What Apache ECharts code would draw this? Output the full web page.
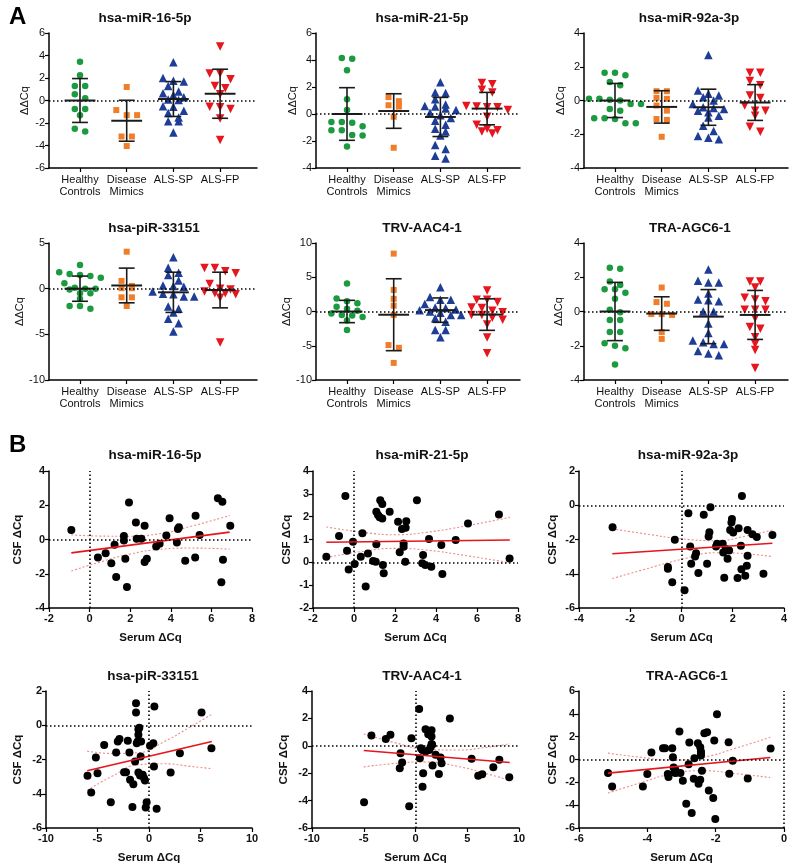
<!DOCTYPE html>
<html><head><meta charset="utf-8">
<script src="https://cdn.jsdelivr.net/npm/echarts@6/dist/echarts.min.js"></script>
<style>html,body{margin:0;padding:0;background:#fff}#c{width:790px;height:866px}</style>
</head><body><div id="c"></div>
<script>
// ---------- Categories / ticks ----------
const catNames = ['Healthy\nControls', 'Disease\nMimics', 'ALS-SP', 'ALS-FP'];

// ---------- Panel A : ΔΔCq per group ----------
const A1_HC = [3.45, 2.25, 1.3, 1.3, 0.55, 0.2, -0.75, -0.75, -1.3, -2.5, -2.75];
const A1_DM = [1.2, -0.85, -1.3, -1.3, -3.2, -3.2, -4.05];
const A1_SP = [3.4, 2.0, 1.75, 1.7, 1.3, 0.8, 0.65, 0.5, 0.3, 0.1, 0.05, -0.5, -0.55, -0.9, -1.1, -1.5, -1.85, -1.85, -2.85];
const A1_FP = [4.8, 2.4, 2.4, 1.9, 1.3, 1.1, 0.55, -0.55, -0.6, -0.75, -1.6, -3.5];
const A1_mean = [0, -1.8, 0.13, 0.6];
const A1_sd = [1.95, 1.82, 1.55, 2.18];

const A2_HC = [4.1, 4.15, 3.25, 1.1, 0.3, -0.6, -0.6, -0.65, -0.9, -1.2, -1.2, -1.55, -1.6, -2.4];
const A2_DM = [1.25, 0.95, 0.65, 0.55, -0.2, -2.5];
const A2_SP = [2.35, 1.6, 1.55, 1.1, 0.7, 0.6, 0.55, 0.4, 0.3, 0.1, -0.1, -0.3, -0.5, -0.8, -1.1, -1.3, -1.6, -2.3, -2.6, -3.1, -3.3];
const A2_FP = [2.3, 2.2, 1.8, 1.6, 0.6, 0.55, 0.5, 0.5, 0.3, -0.2, -0.8, -1.1, -1.2, -1.45, -1.3];
const A2_mean = [0, 0.22, -0.22, 0.4];
const A2_sd = [1.95, 1.28, 1.45, 1.2];

const A3_HC = [1.65, 1.65, 1.5, 1.1, 0.9, 0.1, 0.1, 0.05, 0.0, -0.2, -0.2, -0.5, -0.6, -1.05, -1.05, -1.1, -1.35, -1.35];
const A3_DM = [0.55, 0.55, 0.15, 0.1, -0.3, -0.6, -1.1, -1.15, -2.15];
const A3_SP = [2.7, 0.6, 0.4, 0.3, 0.2, 0.0, -0.2, -0.4, -0.45, -0.5, -0.6, -0.7, -0.9, -1.0, -1.5, -1.8, -2.1, -2.3, -2.2];
const A3_FP = [1.65, 1.65, 1.15, 0.9, 0.3, 0.15, -0.3, -0.6, -0.6, -0.9, -1.55, -1.85];
const A3_mean = [0, -0.38, -0.4, -0.12];
const A3_sd = [1.01, 0.96, 1.07, 1.06];

const A4_HC = [2.6, 1.8, 1.6, 1.5, 1.4, 1.2, 0.6, 0.1, 0.0, 0.0, -0.1, -0.5, -0.5, -1.1, -1.9, -1.9, -2.2];
const A4_DM = [4.05, 0.85, 0.3, 0.05, 0.05, -0.95, -0.95, -1.9];
const A4_SP = [3.45, 2.3, 1.75, 1.5, 0.9, 0.35, 0.3, 0.2, -0.3, -0.55, -0.6, -0.85, -0.85, -1.95, -2.2, -2.6, -3.3, -3.8, -4.7];
const A4_FP = [2.25, 2.25, 1.9, 1.7, 0.5, 0.0, -0.1, -0.3, -0.5, -0.5, -0.6, -1.0, -5.9];
const A4_mean = [0, 0.35, -0.4, -0.15];
const A4_sd = [1.38, 1.9, 2.2, 1.95];

const A5_HC = [4.1, 1.9, 1.5, 1.2, 0.7, 0.4, 0.1, -0.3, -0.5, -0.6, -0.8, -1.3, -2.7];
const A5_DM = [8.45, 3.15, 1.85, 0.85, -0.5, -4.9, -5.3, -7.5];
const A5_SP = [3.55, 2.1, 1.7, 1.7, 1.1, 0.6, 0.5, 0.3, 0.2, 0.0, -0.2, -0.5, -0.5, -1.0, -1.5, -2.7, -2.7, -3.75];
const A5_FP = [3.05, 1.7, 1.7, 1.4, 0.6, 0.5, 0.1, -0.1, -0.5, -0.5, -0.9, -1.2, -1.9, -3.8, -6.1];
const A5_mean = [0, -0.47, 0.2, -0.45];
const A5_sd = [1.63, 5.25, 1.78, 2.3];

const A6_HC = [2.5, 2.55, 1.75, 1.55, 1.3, 1.3, 1.1, 0.75, 0.1, -0.05, -0.5, -0.5, -1.2, -1.2, -1.85, -2.0, -2.15, -3.1];
const A6_DM = [1.4, 0.55, 0.45, -0.15, -0.15, -0.2, -1.2, -1.6];
const A6_SP = [2.45, 1.8, 1.7, 1.7, 1.05, 0.7, 0.65, 0.6, 0.0, 0.0, -0.7, -1.25, -1.7, -1.8, -1.9, -1.9, -2.3, -2.45, -2.55];
const A6_FP = [1.75, 1.75, 1.4, 0.8, 0.7, 0.6, 0.1, 0.1, 0.1, -0.4, -0.9, -1.0, -1.5, -1.9, -2.25, -3.3];
const A6_mean = [0, -0.12, -0.3, -0.2];
const A6_sd = [1.7, 0.98, 1.58, 1.43];

// ---------- Panel B : serum vs CSF ΔCq ----------
const B1_serum = [-0.9,0.41,0.79,1.07,1.23,1.31,1.69,1.69,1.76,1.84,1.94,2.28,2.32,2.55,2.71,2.71,2.82,3.28,3.45,3.78,3.94,4.3,4.35,4.4,4.71,5.2,5.22,5.42,6.32,6.54,6.49,6.57,6.93];
const B1_csf = [0.56,-1.05,-0.8,-1.38,-0.31,-2.19,0.21,-0.06,-1.13,-2.78,2.16,0.99,0.04,0.04,0.8,-1.32,-1.13,-0.41,-0.25,0.23,1.24,-0.17,0.62,0.72,-1.24,-1.05,1.38,0.27,2.41,2.21,-2.5,-1.18,0.8];
const B1_fit = [[-0.9,-0.78],[6.9,0.43]];
const B1_bandX = [-0.9,0.5,2,3.5,5,6.9];
const B1_upper = [0.27,0.2,0.19,0.35,0.77,1.4];
const B1_lower = [-1.84,-1.32,-0.85,-0.57,-0.5,-0.56];

const B2_serum = [-1.35,-0.73,-0.42,-0.34,-0.26,-0.05,0.03,0.33,0.41,0.57,0.68,0.93,1.06,1.09,1.09,1.17,1.25,1.28,1.38,1.38,1.41,1.45,1.74,2.15,2.23,2.34,2.42,2.42,2.52,2.55,2.5,3.07,3.37,3.33,3.48,3.66,3.77,4.26,4.31,4.96,5.56,7.07,7.59];
const B2_csf = [0.25,1.15,2.91,0.51,-0.31,0.9,-0.07,0.25,1.27,-1.06,0.39,0.06,0.03,2.21,0.79,2.07,1.97,2.72,2.55,1.92,-0.12,-0.48,2.21,1.78,0.44,1.46,0.83,0.68,1.51,1.8,0.03,2.72,0.32,-0.04,-0.12,1.02,-0.19,0.76,-0.51,0.98,1.7,2.1,0.17];
const B2_fit = [[-1.35,0.88],[7.6,0.98]];
const B2_bandX = [-1.35,0.5,2,3.5,5.5,7.6];
const B2_upper = [1.55,1.31,1.21,1.31,1.6,1.97];
const B2_lower = [0.21,0.49,0.61,0.54,0.29,-0.02];

const B3_serum = [-2.69,-0.53,-0.53,-0.36,-0.26,0.12,0.27,0.34,0.38,0.53,0.57,0.66,0.87,1.0,1.06,1.09,1.13,1.35,1.39,1.61,1.63,1.67,1.73,1.8,1.86,1.9,1.97,1.95,2.02,2.19,2.23,2.32,2.34,2.36,2.49,2.55,2.58,2.58,2.77,2.94,3.2,3.55];
const B3_csf = [-1.28,-3.61,-3.71,-4.5,-2.02,-4.97,-0.47,-2.41,-3.42,-2.99,-2.8,-3.96,-0.56,-3.42,-1.83,-1.57,-0.12,-2.41,-2.25,-2.25,-2.76,-4.23,-2.56,-3.13,-2.64,-1.44,-0.8,-1.01,-1.59,-4.25,-1.34,-2.37,-3.73,0.54,-4.12,-3.53,-2.95,-1.44,-1.69,-1.86,-4.0,-1.73];
const B3_fit = [[-2.7,-2.83],[3.55,-2.22]];
const B3_bandX = [-2.7,-1.5,0,1.4,2.5,3.55];
const B3_upper = [-1.38,-1.65,-1.96,-2.07,-1.8,-1.45];
const B3_lower = [-4.28,-3.77,-3.16,-2.77,-2.83,-3.0];

const B4_serum = [-5.97,-5.61,-5.16,-5.0,-4.35,-3.71,-3.19,-3.03,-2.87,-2.42,-2.23,-2.06,-1.9,-1.84,-1.61,-1.52,-1.35,-1.26,-1.26,-1.19,-1.1,-1.03,-1.03,-1.03,-0.94,-0.87,-0.81,-0.77,-0.61,-0.48,-0.39,-0.32,-0.23,0.1,0.42,0.48,0.52,0.74,2.1,3.0,5.1,6.06];
const B4_csf = [-2.95,-3.92,-1.88,-2.8,-1.15,-4.49,-1.59,-0.95,-0.8,-2.74,-2.74,-0.91,-1.59,-3.18,-4.78,-3.44,-2.12,1.28,0.74,-1.05,-0.95,-0.56,-0.23,-2.76,-0.14,-2.93,-1.83,-0.95,-2.89,-3.09,-3.22,-4.8,-4.49,-1.2,-1.05,-2.41,1.09,-4.87,-2.76,-1.63,0.74,-1.34];
const B4_fit = [[-6,-2.66],[6.1,-0.95]];
const B4_bandX = [-6,-3.5,-1,1.5,4,6.1];
const B4_upper = [-1.51,-1.65,-1.6,-0.95,-0.1,0.64];
const B4_lower = [-3.81,-2.95,-2.3,-2.25,-2.4,-2.54];

const B5_serum = [-4.97,-4.26,-2.87,-2.42,-1.45,-1.52,-1.29,-0.39,-0.61,0.35,0.42,0.52,0.65,0.74,0.68,0.97,0.97,1.23,1.32,1.45,1.55,1.55,1.61,1.55,1.65,1.94,2.26,2.42,2.52,3.32,5.42,6.06,6.45,7.52,8.1,9.06];
const B5_csf = [-4.12,0.75,0.5,0.8,-0.54,-1.63,-1.22,0.55,-4.42,2.69,-0.9,-0.17,-0.3,-2.01,-2.98,1.2,-0.42,0.84,-0.3,-0.1,1.14,0.67,0.07,0.14,-1.44,-0.66,-2.06,-0.86,-1.27,1.99,-0.95,-2.18,-2.08,-1.57,-1.02,-2.3];
const B5_fit = [[-5,-0.34],[9.1,-1.22]];
const B5_bandX = [-5,-2,1,4,7,9.1];
const B5_upper = [0.86,0.23,-0.25,-0.31,-0.1,0.15];
const B5_lower = [-1.54,-1.29,-1.17,-1.49,-2.06,-2.52];

const B6_serum = [-5.15,-5.03,-4.13,-4.0,-3.88,-3.54,-3.48,-3.4,-3.38,-3.27,-3.25,-3.23,-3.2,-3.18,-3.17,-3.03,-3.06,-2.96,-2.86,-2.77,-2.79,-2.7,-2.62,-2.64,-2.52,-2.5,-2.45,-2.45,-2.43,-2.43,-2.43,-2.4,-2.33,-2.25,-2.2,-2.07,-2.04,-2.01,-1.96,-1.62,-1.6,-1.5,-1.06,-0.39];
const B6_csf = [-1.19,-2.36,-2.36,-1.28,0.61,0.99,0.99,-1.28,-1.54,0.99,0.2,-0.7,-1.14,-0.9,-1.19,-1.19,2.45,-1.86,-3.87,1.49,-0.41,-4.69,0.12,-1.69,1.43,-2.13,-1.78,1.08,0.7,0.5,0.35,-0.99,2.3,2.39,-2.71,-3.38,1.66,-5.21,3.96,1.51,-1.25,-0.12,-1.66,0.96];
const B6_fit = [[-5.15,-1.19],[-0.4,0.17]];
const B6_bandX = [-5.15,-4.2,-3.3,-2.4,-1.4,-0.4];
const B6_upper = [0.56,0.2,-0.05,0.18,1.0,1.95];
const B6_lower = [-2.94,-2.04,-1.27,-0.98,-1.24,-1.58];

// ---------- Styles & layout ----------
const FONT = '"Liberation Sans", Arial, Helvetica, sans-serif';
const colors = ['#1b9a40', '#f07d2a', '#1d3d97', '#e5161d'];
const symbols = ['circle', 'rect', 'triangle', 'triangle'];
const symRot = [0, 0, 0, 180];
const symSize = [6.5, 6, 8.5, 8.5];

const panelsA = [
  {title:'hsa-miR-16-5p', groups:[A1_HC,A1_DM,A1_SP,A1_FP], mean:A1_mean, sd:A1_sd, y:[-6,6,2],
   g:{left:49, top:33, width:208, height:135}, tx:140, ty:6, gap:19},
  {title:'hsa-miR-21-5p', groups:[A2_HC,A2_DM,A2_SP,A2_FP], mean:A2_mean, sd:A2_sd, y:[-4,6,2],
   g:{left:316, top:33, width:204, height:135}, tx:417, ty:6, gap:18},
  {title:'hsa-miR-92a-3p', groups:[A3_HC,A3_DM,A3_SP,A3_FP], mean:A3_mean, sd:A3_sd, y:[-4,4,2],
   g:{left:584, top:33, width:204, height:135}, tx:684, ty:6, gap:17},
  {title:'hsa-piR-33151', groups:[A4_HC,A4_DM,A4_SP,A4_FP], mean:A4_mean, sd:A4_sd, y:[-10,5,5],
   g:{left:49, top:243, width:208, height:137}, tx:149, ty:216, gap:24},
  {title:'TRV-AAC4-1', groups:[A5_HC,A5_DM,A5_SP,A5_FP], mean:A5_mean, sd:A5_sd, y:[-10,10,5],
   g:{left:316, top:243, width:204, height:137}, tx:417, ty:216, gap:23},
  {title:'TRA-AGC6-1', groups:[A6_HC,A6_DM,A6_SP,A6_FP], mean:A6_mean, sd:A6_sd, y:[-4,4,2],
   g:{left:584, top:243, width:204, height:137}, tx:685, ty:216, gap:20}
];

const panelsB = [
  {title:'hsa-miR-16-5p', serum:B1_serum, csf:B1_csf, fit:B1_fit, bx:B1_bandX, up:B1_upper, lo:B1_lower,
   x:[-2,8,2], y:[-4,4,2], g:{left:49, top:471, width:203, height:137}, tx:150, ty:443, gap:25},
  {title:'hsa-miR-21-5p', serum:B2_serum, csf:B2_csf, fit:B2_fit, bx:B2_bandX, up:B2_upper, lo:B2_lower,
   x:[-2,8,2], y:[-2,4,1], g:{left:313, top:471, width:205, height:137}, tx:417, ty:443, gap:20},
  {title:'hsa-miR-92a-3p', serum:B3_serum, csf:B3_csf, fit:B3_fit, bx:B3_bandX, up:B3_upper, lo:B3_lower,
   x:[-4,4,2], y:[-6,2,2], g:{left:579, top:471, width:206, height:137}, tx:683, ty:443, gap:20},
  {title:'hsa-piR-33151', serum:B4_serum, csf:B4_csf, fit:B4_fit, bx:B4_bandX, up:B4_upper, lo:B4_lower,
   x:[-10,10,5], y:[-6,2,2], g:{left:46, top:691, width:206, height:137}, tx:148, ty:664, gap:22},
  {title:'TRV-AAC4-1', serum:B5_serum, csf:B5_csf, fit:B5_fit, bx:B5_bandX, up:B5_upper, lo:B5_lower,
   x:[-10,10,5], y:[-6,4,2], g:{left:312, top:691, width:207, height:137}, tx:417, ty:664, gap:22},
  {title:'TRA-AGC6-1', serum:B6_serum, csf:B6_csf, fit:B6_fit, bx:B6_bandX, up:B6_upper, lo:B6_lower,
   x:[-6,0,2], y:[-6,6,2], g:{left:579, top:691, width:206, height:137}, tx:682, ty:664, gap:20}
];

// Prism-like row swarm: bins values into rows by marker height, spreads rows symmetrically
function swarm(values, pxPerY, pxPerX, diam) {
  const sorted = values.slice().sort((a, b) => b - a);
  const binH = diam * 0.9 / pxPerY;
  const out = [];
  let bin = [], start = null;
  const flush = () => {
    const k = bin.length;
    bin.forEach((v, j) => out.push([(j - (k - 1) / 2) * diam * 1.6 / pxPerX, v]));
    bin = [];
  };
  for (const v of sorted) {
    if (start === null || start - v > binH) { flush(); start = v; }
    bin.push(v);
  }
  flush();
  return out;
}

const axisLineStyle = {color:'#000', width:1.5};
const option = {animation:false, backgroundColor:'#fff', title:[], grid:[], xAxis:[], yAxis:[], series:[]};

option.title.push({text:'A', left:4, top:0, textStyle:{fontSize:24, fontWeight:'bold', color:'#000', fontFamily:FONT}});
option.title.push({text:'B', left:4, top:428, textStyle:{fontSize:24, fontWeight:'bold', color:'#000', fontFamily:FONT}});

let idx = 0;
const UNIT = 46.7; // px per category step
panelsA.forEach(p => {
  const g = p.g;
  option.title.push({text:p.title, left:p.tx, top:p.ty, textAlign:'center',
    textStyle:{fontSize:13.5, fontWeight:'bold', color:'#111', fontFamily:FONT}});
  option.grid.push({left:g.left, top:g.top, width:g.width, height:g.height});
  const xMin = 1 - 31 / UNIT, xMax = xMin + g.width / UNIT;
  option.xAxis.push({gridIndex:idx, type:'value', min:xMin, max:xMax,
    axisLine:{show:true, onZero:false, lineStyle:axisLineStyle},
    axisTick:{show:true, customValues:[1,2,3,4], length:4, lineStyle:{color:'#000', width:1.2}},
    axisLabel:{show:true, customValues:[1,2,3,4], formatter:v => catNames[Math.round(v) - 1],
      color:'#111', fontSize:11, lineHeight:12, margin:6, fontFamily:FONT},
    splitLine:{show:false}});
  option.yAxis.push({gridIndex:idx, type:'value', min:p.y[0], max:p.y[1], interval:p.y[2],
    axisLine:{show:true, onZero:false, lineStyle:axisLineStyle},
    axisTick:{show:true, length:4, lineStyle:{color:'#000', width:1.2}},
    axisLabel:{color:'#111', fontSize:11, margin:4, fontFamily:FONT},
    splitLine:{show:false},
    name:'ΔΔCq', nameLocation:'middle', nameGap:p.gap,
    nameTextStyle:{fontSize:11, color:'#111', fontFamily:FONT}});
  const pxY = g.height / (p.y[1] - p.y[0]);
  p.groups.forEach((vals, gi) => {
    const pts = swarm(vals, pxY, UNIT, 6.5).map(([dx, v]) => [gi + 1 + dx, v]);
    const s = {type:'scatter', xAxisIndex:idx, yAxisIndex:idx, data:pts, silent:true,
      symbol:symbols[gi], symbolRotate:symRot[gi], symbolSize:symSize[gi],
      itemStyle:{color:colors[gi], opacity:1}, z:3};
    if (gi === 0) s.markLine = {silent:true, symbol:'none', label:{show:false}, animation:false,
      lineStyle:{type:[1.5, 2.5], color:'#000', width:1.6}, data:[{yAxis:0}]};
    option.series.push(s);
  });
  option.series.push({type:'custom', xAxisIndex:idx, yAxisIndex:idx, silent:true, z:5, clip:false,
    data:p.mean.map((m, i) => [i + 1, m, p.sd[i]]),
    renderItem:(params, api) => {
      const x = api.value(0), m = api.value(1), s = api.value(2);
      const c = (a, b) => api.coord([a, b]);
      const L = (p1, p2, w) => ({type:'line', shape:{x1:p1[0], y1:p1[1], x2:p2[0], y2:p2[1]},
        style:{stroke:'#1a1a1a', lineWidth:w}});
      return {type:'group', children:[
        L(c(x - 0.33, m), c(x + 0.33, m), 2),
        L(c(x, m + s), c(x, m - s), 1.6),
        L(c(x - 0.17, m + s), c(x + 0.17, m + s), 1.6),
        L(c(x - 0.17, m - s), c(x + 0.17, m - s), 1.6)
      ]};
    }});
  idx++;
});

panelsB.forEach(p => {
  const g = p.g;
  option.title.push({text:p.title, left:p.tx, top:p.ty, textAlign:'center',
    textStyle:{fontSize:13.5, fontWeight:'bold', color:'#111', fontFamily:FONT}});
  option.grid.push({left:g.left, top:g.top, width:g.width, height:g.height});
  option.xAxis.push({gridIndex:idx, type:'value', min:p.x[0], max:p.x[1], interval:p.x[2],
    axisLine:{show:true, onZero:false, lineStyle:axisLineStyle},
    axisTick:{show:true, length:4, lineStyle:{color:'#000', width:1.2}},
    axisLabel:{color:'#111', fontSize:11, fontWeight:'bold', margin:5, fontFamily:FONT},
    splitLine:{show:false},
    name:'Serum ΔCq', nameLocation:'middle', nameGap:24,
    nameTextStyle:{fontSize:11.5, fontWeight:'bold', color:'#111', fontFamily:FONT}});
  option.yAxis.push({gridIndex:idx, type:'value', min:p.y[0], max:p.y[1], interval:p.y[2],
    axisLine:{show:true, onZero:false, lineStyle:axisLineStyle},
    axisTick:{show:true, length:4, lineStyle:{color:'#000', width:1.2}},
    axisLabel:{color:'#111', fontSize:11, fontWeight:'bold', margin:4, fontFamily:FONT},
    splitLine:{show:false},
    name:'CSF ΔCq', nameLocation:'middle', nameGap:p.gap,
    nameTextStyle:{fontSize:11.5, fontWeight:'bold', color:'#111', fontFamily:FONT}});
  option.series.push({type:'scatter', xAxisIndex:idx, yAxisIndex:idx, silent:true, z:3,
    data:p.serum.map((s, i) => [s, p.csf[i]]), symbol:'circle', symbolSize:8,
    itemStyle:{color:'#000', opacity:1},
    markLine:{silent:true, symbol:'none', label:{show:false}, animation:false,
      lineStyle:{type:[1.5, 2.5], color:'#000', width:1.6}, data:[{xAxis:0}, {yAxis:0}]}});
  const band = arr => ({type:'line', xAxisIndex:idx, yAxisIndex:idx, silent:true, z:2,
    data:p.bx.map((x, i) => [x, arr[i]]), smooth:0.5, symbol:'none',
    lineStyle:{color:'#f08a8a', width:1.1, type:[2, 2]}});
  option.series.push(band(p.up));
  option.series.push(band(p.lo));
  option.series.push({type:'line', xAxisIndex:idx, yAxisIndex:idx, silent:true, z:4,
    data:p.fit, symbol:'none', lineStyle:{color:'#e8141c', width:1.6}});
  idx++;
});

const chart = echarts.init(document.getElementById('c'), null, {renderer:'canvas'});
chart.setOption(option);
</script>
</body></html>
